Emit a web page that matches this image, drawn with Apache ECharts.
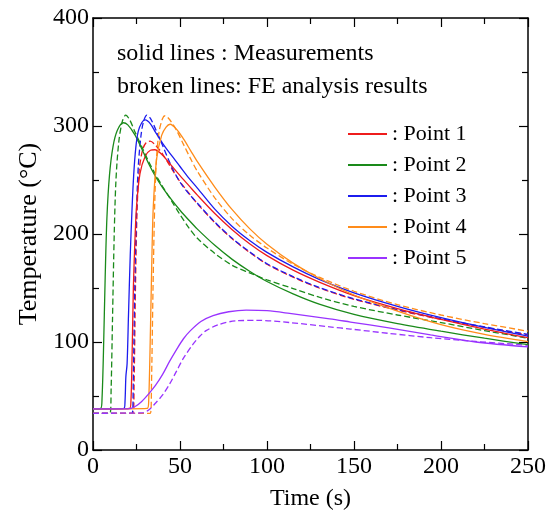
<!DOCTYPE html>
<html>
<head>
<meta charset="utf-8">
<script src="https://cdn.jsdelivr.net/npm/echarts@6/dist/echarts.min.js"></script>
<style>html,body{margin:0;padding:0;background:#fff}#c{width:553px;height:520px}</style>
</head>
<body>
<div id="c"></div>
<script>
// [time (s), temperature (°C)]
const p1Meas = [[0,38],[21,38.5],[21.8,45],[22.5,90],[23.2,150],[24,190],[25,225],[27,256],[30,272],[33,277.5],[35.5,278],[40,273],[45,263.5],[50,254],[55,245],[60,236],[70,219],[80,204],[90,191],[100,180],[115,166.5],[130,155.5],[150,143],[175,131],[200,121],[225,112],[250,104]];
const p1FE = [[0,34],[23,34],[23.6,60],[24.4,150],[25.3,220],[26.5,258],[28.5,278],[30.5,284.5],[32.8,286],[35.5,283],[40,274],[45,261],[50,248.5],[55,238],[60,228],[70,210.5],[80,195.5],[90,183],[100,172],[115,160],[130,150],[150,139.5],[175,129.5],[200,121],[225,113.5],[250,106.5]];
const p2Meas = [[0,38],[4.5,38.5],[5.2,48],[6,90],[7,160],[8,215],[9.5,255],[11.5,281],[14,296],[17.4,303],[20,301],[24,292],[28,279],[32,265],[36,253],[40,243],[45,232],[50,222],[55,213],[60,204.5],[70,189.5],[80,176.5],[90,165.5],[100,156],[115,144.5],[130,135],[150,125.5],[175,117],[200,110],[225,103.5],[250,97.5]];
const p2FE = [[0,34],[9.8,34],[10.4,55],[11.2,120],[12.2,200],[13.2,250],[14.8,285],[16.8,304],[18.8,310],[21,306],[24,295],[28,281],[32,267],[36,255],[40,244],[45,231],[50,218],[55,206],[60,196],[70,182],[80,171],[90,164],[100,157.5],[115,149.5],[130,141.5],[150,133],[175,125],[200,118],[225,110.5],[250,103.5]];
const p3Meas = [[0,38],[17.8,38.5],[18.4,45],[18.9,68],[19.6,80],[20.4,125],[21.4,180],[22.4,222],[23.4,255],[24.6,280],[26,295],[28,303],[30,305.6],[33,302],[36,294],[40,284],[45,273],[50,262.5],[55,252],[60,242.5],[70,223],[80,207],[90,194],[100,183],[115,169.5],[130,158],[150,145.5],[175,133],[200,122.5],[225,113.5],[250,105.5]];
const p3FE = [[0,34],[22.5,34],[23.1,60],[24,150],[25,220],[26,262],[27.5,290],[29,304],[31,310],[33,307],[36,297],[40,282],[45,263],[50,248],[55,237.5],[60,228.5],[70,211],[80,196],[90,183.5],[100,172.5],[115,160.5],[130,150.5],[150,140],[175,130],[200,121.5],[225,114],[250,107]];
const p4Meas = [[0,38],[31.2,38.5],[32,45],[33,110],[34,190],[34.7,227],[36.6,270],[39.5,291.5],[42,299],[44.3,301.6],[48,297],[52,288],[56,277.5],[60,267],[70,243.5],[80,222.5],[90,205],[100,190.5],[115,173],[130,159],[150,143.5],[175,128.5],[200,116],[225,107],[250,100.3]];
const p4FE = [[0,34],[33,34],[33.6,60],[34.5,150],[35.5,230],[36.5,270],[38,295],[40,307],[41.4,309.5],[44,306],[48,296],[52,283],[56,270],[60,258],[70,233.5],[80,214],[90,199],[100,187],[115,172],[130,160],[150,147],[175,134.5],[200,125],[225,117],[250,110]];
const p5Meas = [[0,38],[20,38],[24,40],[28,45],[32,52],[36,60],[40,70],[44,82],[48,93],[52,103],[56,110.5],[62,119],[69,124.5],[78,128],[88,129.5],[100,129],[113,126.5],[136,121.5],[148,118.5],[170,113],[194,106.5],[220,100],[250,95.5]];
const p5FE = [[0,34],[28,34.3],[32,37],[36,43.5],[40,51],[44,61],[48,73],[52,85],[57.5,98],[61.5,105.5],[65,110.5],[72,116],[82.6,119.7],[95,120],[113,118],[136,114],[148,112],[170,108],[194,104],[220,100.5],[250,97]];

const pointNames = ['Point 1','Point 2','Point 3','Point 4','Point 5'];
const measData = [p1Meas,p2Meas,p3Meas,p4Meas,p5Meas];
const feData = [p1FE,p2FE,p3FE,p4FE,p5FE];
const colors = ['#ee1c1c','#1a8a1a','#1c1cee','#ff8c1a','#9933ff'];
const xTicks = {min:0,max:250,interval:50};
const yTicks = {min:0,max:400,interval:100};

const FONT = 'Liberation Serif';
const chart = echarts.init(document.getElementById('c'));
const series = [];
pointNames.forEach((n,i)=>{
  series.push({name:n,type:'line',data:measData[i],showSymbol:false,symbol:'none',smooth:0.3,
    lineStyle:{color:colors[i],width:1.3},itemStyle:{color:colors[i]},z:3});
  series.push({name:n+' FE',type:'line',data:feData[i],showSymbol:false,symbol:'none',smooth:0.3,
    lineStyle:{color:colors[i],width:1.3,type:[6,3]},itemStyle:{color:colors[i]},z:2});
});
const axisCommon = {
  axisLine:{show:true,onZero:false,lineStyle:{color:'#000',width:1.5}},
  axisTick:{show:true,inside:true,length:9,lineStyle:{color:'#000',width:1.2}},
  minorTick:{show:true,splitNumber:2,length:6,lineStyle:{color:'#000',width:1.2}},
  splitLine:{show:false}
};
chart.setOption({
  backgroundColor:'#fff',
  animation:false,
  grid:{left:93,right:25,top:18,bottom:70},
  xAxis:[
    Object.assign({type:'value',position:'bottom',min:xTicks.min,max:xTicks.max,interval:xTicks.interval,
      axisLabel:{color:'#000',fontSize:24,fontFamily:FONT,margin:5},
      name:'Time (s)',nameLocation:'middle',nameGap:37,nameTextStyle:{color:'#000',fontSize:24,fontFamily:FONT}},axisCommon),
    Object.assign({type:'value',position:'top',min:xTicks.min,max:xTicks.max,interval:xTicks.interval,axisLabel:{show:false}},axisCommon)
  ],
  yAxis:[
    Object.assign({type:'value',position:'left',min:yTicks.min,max:yTicks.max,interval:yTicks.interval,
      axisLabel:{color:'#000',fontSize:24,fontFamily:FONT,margin:4},
      name:'Temperature (°C)',nameLocation:'middle',nameGap:49,nameRotate:90,nameTextStyle:{color:'#000',fontSize:26,fontFamily:FONT}},axisCommon),
    Object.assign({type:'value',position:'right',min:yTicks.min,max:yTicks.max,interval:yTicks.interval,axisLabel:{show:false}},axisCommon)
  ],
  legend:{data:pointNames,orient:'vertical',left:343,top:118,itemWidth:39,itemHeight:2,itemGap:9,icon:'rect',
    formatter:': {name}',textStyle:{color:'#000',fontSize:22,fontFamily:FONT,lineHeight:22}},
  graphic:[
    {type:'text',left:117,top:42,style:{text:'solid lines : Measurements',fill:'#000',font:'24px "Liberation Serif"'}},
    {type:'text',left:117,top:75,style:{text:'broken lines: FE analysis results',fill:'#000',font:'24px "Liberation Serif"'}}
  ],
  series:series
});
</script>
</body>
</html>
